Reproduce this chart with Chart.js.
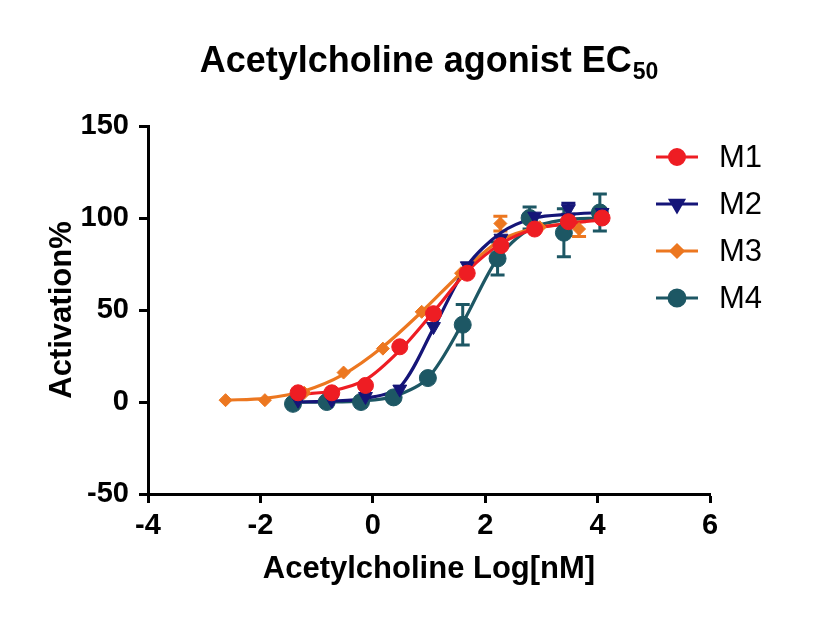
<!DOCTYPE html>
<html><head><meta charset="utf-8">
<script src="https://cdn.jsdelivr.net/npm/chart.js@4.4.1/dist/chart.umd.min.js"></script>
<style>html,body{margin:0;padding:0;background:#fff}#wrap{width:816px;height:628px}</style>
</head><body><div id="wrap"><canvas id="c" width="816" height="628"></canvas></div>
<script>
const titleMain = "Acetylcholine agonist EC";
const titleSub = "50";
const xTitle = "Acetylcholine Log[nM]";
const yTitle = "Activation%";
const seriesNames = ["M1", "M2", "M3", "M4"];
const seriesColors = ["#ee1d23", "#151578", "#ec7720", "#1d5764"];
const xTicks = [-4, -2, 0, 2, 4, 6];
const yTicks = [-50, 0, 50, 100, 150];

const m1X = [-1.33, -0.73, -0.13, 0.48, 1.08, 1.68, 2.28, 2.88, 3.48, 4.08];
const m1Y = [5, 5, 9, 30, 48, 70, 85, 94, 98, 100];
const m1Err = [0, 0, 0, 0, 0, 0, 0, 0, 0, 0];
const m1Fit = [4, 6, 12, 28, 49, 71, 86, 94, 97, 99];

const m2X = [-1.33, -0.73, -0.13, 0.48, 1.08, 1.68, 2.28, 2.88, 3.48, 4.08];
const m2Y = [1, 1, 3, 7, 41, 74, 89, 101, 105, 103];
const m2Err = [0, 0, 0, 0, 0, 0, 0, 0, 3, 0];
const m2Fit = [0, 0.5, 2, 8, 40, 74, 92, 100, 102, 103];

const m3X = [-2.62, -1.92, -1.22, -0.52, 0.18, 0.87, 1.57, 2.27, 2.97, 3.67];
const m3Y = [1, 1, 5, 16, 29, 49, 70, 97, 95, 94];
const m3Err = [0, 0, 0, 0, 0, 0, 0, 4, 0, 4];
const m3Fit = [1, 2, 6, 15, 30, 49, 70, 88, 95, 97];

const m4X = [-1.42, -0.82, -0.21, 0.37, 0.98, 1.6, 2.22, 2.79, 3.4, 4.04];
const m4Y = [-1, 0, 0, 2.5, 13, 42, 78, 100, 92, 103];
const m4Err = [0, 0, 0, 0, 0, 11, 9, 6, 13, 10];
const m4Fit = [0, 0, 0.5, 3, 13, 43, 78, 94, 99, 100];

const pts = (xs, ys) => xs.map((x, i) => ({x: x, y: ys[i]}));
const styles = [
  {pointStyle: 'circle', radius: 8, rotation: 0},
  {pointStyle: 'triangle', radius: 8, rotation: 180},
  {pointStyle: 'rectRot', radius: 6.5, rotation: 0},
  {pointStyle: 'circle', radius: 8.5, rotation: 0}
];
const allX = [m1X, m2X, m3X, m4X], allY = [m1Y, m2Y, m3Y, m4Y], allErr = [m1Err, m2Err, m3Err, m4Err], allFit = [m1Fit, m2Fit, m3Fit, m4Fit];

const datasets = [];
for (let i = 0; i < 4; i++) {
  datasets.push({
    label: seriesNames[i], data: pts(allX[i], allY[i]), errors: allErr[i], isMarker: true,
    showLine: false, pointStyle: styles[i].pointStyle, pointRadius: styles[i].radius,
    pointRotation: styles[i].rotation, backgroundColor: seriesColors[i], borderColor: seriesColors[i],
    pointBorderWidth: 1, order: i
  });
}
for (let i = 0; i < 4; i++) {
  datasets.push({
    label: seriesNames[i] + " fit", data: pts(allX[i], allFit[i]), showLine: true, pointRadius: 0,
    borderColor: seriesColors[i], borderWidth: 3.2, tension: 0.3, fill: false, order: 4 + i
  });
}

const errorBars = {
  id: 'errorBars',
  beforeDatasetsDraw(chart) {
    const ctx = chart.ctx, xs = chart.scales.x, ys = chart.scales.y;
    chart.data.datasets.forEach((ds) => {
      if (!ds.isMarker) return;
      ctx.save();
      ctx.strokeStyle = ds.borderColor; ctx.lineWidth = 3;
      ds.data.forEach((p, i) => {
        const e = ds.errors[i]; if (!e) return;
        const px = xs.getPixelForValue(p.x), top = ys.getPixelForValue(p.y + e), bot = ys.getPixelForValue(p.y - e);
        ctx.beginPath();
        ctx.moveTo(px, top); ctx.lineTo(px, bot);
        ctx.moveTo(px - 7, top); ctx.lineTo(px + 7, top);
        ctx.moveTo(px - 7, bot); ctx.lineTo(px + 7, bot);
        ctx.stroke();
      });
      ctx.restore();
    });
  }
};

const titlePlugin = {
  id: 'subTitle',
  afterDraw(chart) {
    const ctx = chart.ctx;
    ctx.save();
    ctx.fillStyle = '#000'; ctx.textBaseline = 'alphabetic';
    const fMain = 'bold 36px "Liberation Sans", Arial, sans-serif';
    const fSub = 'bold 23px "Liberation Sans", Arial, sans-serif';
    ctx.font = fMain; const w1 = ctx.measureText(titleMain).width;
    ctx.font = fSub; const w2 = ctx.measureText(titleSub).width;
    const x0 = 429 - (w1 + w2 + 1) / 2, base = 72;
    ctx.font = fMain; ctx.fillText(titleMain, x0, base);
    ctx.font = fSub; ctx.fillText(titleSub, x0 + w1 + 1, base + 7);
    ctx.restore();
  }
};

const legendPlugin = {
  id: 'lineLegend',
  afterDraw(chart) {
    const ctx = chart.ctx;
    ctx.save();
    for (let i = 0; i < 4; i++) {
      const y = 157 + i * 47;
      ctx.strokeStyle = seriesColors[i]; ctx.lineWidth = 3;
      ctx.beginPath(); ctx.moveTo(656, y); ctx.lineTo(698, y); ctx.stroke();
      ctx.fillStyle = seriesColors[i]; ctx.strokeStyle = seriesColors[i];
      Chart.helpers.drawPoint(ctx, {pointStyle: styles[i].pointStyle, rotation: styles[i].rotation, radius: styles[i].radius - 0.5, borderWidth: 1}, 677, y);
      ctx.fillStyle = '#000'; ctx.textBaseline = 'middle';
      ctx.font = '31px "Liberation Sans", Arial, sans-serif';
      ctx.fillText(seriesNames[i], 719, y + 1);
    }
    ctx.restore();
  }
};

new Chart(document.getElementById('c'), {
  type: 'scatter',
  data: {datasets: datasets},
  plugins: [errorBars, titlePlugin, legendPlugin],
  options: {
    responsive: false, animation: false, devicePixelRatio: 1,
    layout: {padding: {top: 126, right: 106, bottom: 0, left: 0}},
    plugins: {legend: {display: false}, tooltip: {enabled: false}, title: {display: false}},
    scales: {
      x: {
        type: 'linear', min: -4, max: 6,
        afterBuildTicks: s => { s.ticks = xTicks.map(v => ({value: v})); },
        afterFit: s => { s.height = 134; },
        border: {display: true, color: '#000', width: 3},
        grid: {display: true, drawOnChartArea: false, drawTicks: true, tickLength: 9, tickWidth: 3, tickColor: '#000'},
        ticks: {color: '#000', padding: 6, font: {family: '"Liberation Sans", Arial, sans-serif', size: 29, weight: 'bold'}, maxRotation: 0, autoSkip: false},
        title: {display: true, text: xTitle, color: '#000', padding: {top: 0, bottom: 40}, font: {family: '"Liberation Sans", Arial, sans-serif', size: 31, weight: 'bold'}}
      },
      y: {
        type: 'linear', min: -50, max: 150,
        afterBuildTicks: s => { s.ticks = yTicks.map(v => ({value: v})); },
        afterFit: s => { s.width = 148; },
        border: {display: true, color: '#000', width: 3},
        grid: {display: true, drawOnChartArea: false, drawTicks: true, tickLength: 9, tickWidth: 3, tickColor: '#000'},
        ticks: {color: '#000', padding: 10, font: {family: '"Liberation Sans", Arial, sans-serif', size: 29, weight: 'bold'}, autoSkip: false},
        title: {display: true, text: yTitle, color: '#000', padding: {top: 44, bottom: 0}, font: {family: '"Liberation Sans", Arial, sans-serif', size: 31, weight: 'bold'}}
      }
    }
  }
});
</script></body></html>
